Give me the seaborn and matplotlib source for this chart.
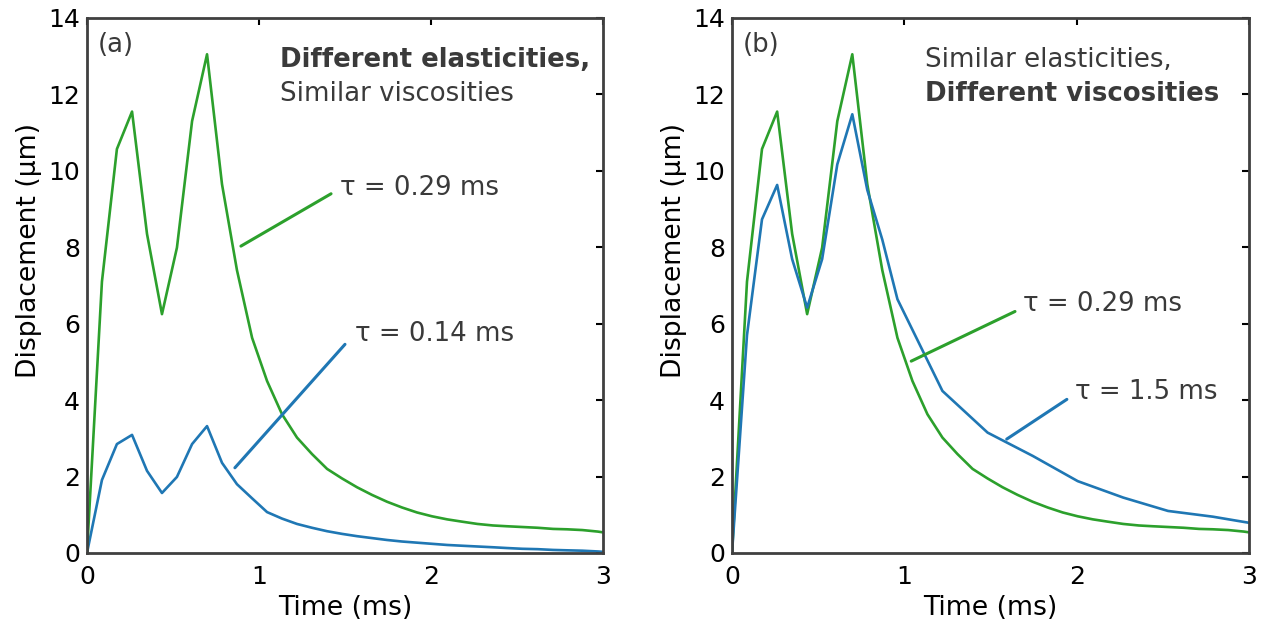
import numpy as np
import pandas as pd
import matplotlib
matplotlib.use("Agg")
import matplotlib.pyplot as plt
import seaborn as sns

# Sample times (ms) on the fine acquisition grid
time_fine = [0, 0.087, 0.174, 0.262, 0.349, 0.436, 0.523, 0.611, 0.698, 0.785,
             0.872, 0.960, 1.047, 1.134, 1.221, 1.308, 1.396, 1.483, 1.570, 1.657,
             1.745, 1.832, 1.919, 2.006, 2.094, 2.180, 2.270, 2.360, 2.440, 2.530,
             2.620, 2.710, 2.790, 2.880, 2.970, 3.000]

# Displacement (µm), tau = 0.29 ms
disp_tau029 = [0, 7.1, 10.57, 11.55, 8.35, 6.25, 7.99, 11.3, 13.05, 9.65,
               7.4, 5.63, 4.5, 3.63, 3.02, 2.59, 2.2, 1.95, 1.72, 1.52,
               1.34, 1.19, 1.06, 0.96, 0.88, 0.82, 0.76, 0.72, 0.70, 0.68,
               0.66, 0.63, 0.62, 0.60, 0.56, 0.54]

# Displacement (µm), tau = 0.14 ms
disp_tau014 = [0, 1.91, 2.85, 3.09, 2.15, 1.57, 1.99, 2.85, 3.32, 2.36,
               1.8, 1.43, 1.07, 0.9, 0.76, 0.66, 0.57, 0.5, 0.44, 0.39,
               0.34, 0.3, 0.27, 0.24, 0.21, 0.19, 0.17, 0.15, 0.13, 0.11,
               0.1, 0.08, 0.07, 0.06, 0.04, 0.03]

# Displacement (µm), tau = 1.5 ms (coarser sampling after 1 ms)
time_tau15 = [0, 0.087, 0.174, 0.262, 0.349, 0.436, 0.523, 0.611, 0.698, 0.785,
              0.872, 0.960, 1.221, 1.483, 1.745, 2.006, 2.270, 2.530, 2.790, 3.000]
disp_tau15 = [0, 5.7, 8.73, 9.63, 7.69, 6.42, 7.69, 10.17, 11.48, 9.5,
              8.2, 6.64, 4.24, 3.15, 2.54, 1.88, 1.45, 1.1, 0.95, 0.79]

GREEN = "#2ca02c"
BLUE = "#1f77b4"
TEXT = "#3a3a3a"
SPINE = "#404040"

sns.set_style("white")
plt.rcParams["font.family"] = ["DejaVu Sans"]

df_029 = pd.DataFrame({"t": time_fine, "d": disp_tau029})
df_014 = pd.DataFrame({"t": time_fine, "d": disp_tau014})
df_15 = pd.DataFrame({"t": time_tau15, "d": disp_tau15})

fig = plt.figure(figsize=(12.66, 6.24), dpi=100)
ax_a = fig.add_axes([0.0687, 0.1138, 0.4076, 0.8574])
ax_b = fig.add_axes([0.5782, 0.1138, 0.4084, 0.8574])

lw = 1.9
sns.lineplot(data=df_014, x="t", y="d", ax=ax_a, color=BLUE, lw=lw)
sns.lineplot(data=df_029, x="t", y="d", ax=ax_a, color=GREEN, lw=lw)
sns.lineplot(data=df_029, x="t", y="d", ax=ax_b, color=GREEN, lw=lw)
sns.lineplot(data=df_15, x="t", y="d", ax=ax_b, color=BLUE, lw=lw)

FS_TICK = 18
FS_LAB = 19.2
FS = 18.7
for ax in (ax_a, ax_b):
    ax.set_xlim(0, 3)
    ax.set_ylim(0, 14)
    ax.set_xticks([0, 1, 2, 3])
    ax.set_yticks(np.arange(0, 15, 2))
    ax.tick_params(direction="in", length=5, width=1.5, color="black",
                   labelsize=FS_TICK, top=True, right=True,
                   labelcolor="black")
    ax.tick_params(axis="x", pad=9)
    ax.tick_params(axis="y", pad=5)
    for s in ax.spines.values():
        s.set_visible(True)
        s.set_color(SPINE)
        s.set_linewidth(2)
    ax.set_xlabel("Time (ms)", fontsize=FS_LAB, color="black", labelpad=4)
    ax.set_ylabel("Displacement (µm)", fontsize=FS_LAB, color="black")
    ax.yaxis.set_label_coords(-0.088, 0.565)


def leader(ax, p0, p1, color, label, tpos):
    ax.annotate("", xy=p0, xytext=p1,
                arrowprops=dict(arrowstyle="-", color=color, lw=2.2,
                                shrinkA=0, shrinkB=0))
    ax.text(tpos[0], tpos[1], label, fontsize=FS, color=TEXT,
            ha="left", va="center")


# Panel (a)
ax_a.text(0.06, 13.3, "(a)", fontsize=FS, color=TEXT, ha="left", va="center")
ax_a.text(1.12, 12.9, "Different elasticities,", fontsize=FS, color=TEXT,
          fontweight="bold", ha="left", va="center")
ax_a.text(1.12, 12.02, "Similar viscosities", fontsize=FS, color=TEXT,
          ha="left", va="center")
leader(ax_a, (0.895, 8.03), (1.419, 9.4), GREEN, "τ = 0.29 ms", (1.47, 9.56))
leader(ax_a, (0.86, 2.23), (1.50, 5.46), BLUE, "τ = 0.14 ms", (1.56, 5.73))

# Panel (b)
ax_b.text(0.06, 13.3, "(b)", fontsize=FS, color=TEXT, ha="left", va="center")
ax_b.text(1.12, 12.9, "Similar elasticities,", fontsize=FS, color=TEXT,
          ha="left", va="center")
ax_b.text(1.12, 12.02, "Different viscosities", fontsize=FS, color=TEXT,
          fontweight="bold", ha="left", va="center")
leader(ax_b, (1.04, 5.02), (1.642, 6.32), GREEN, "τ = 0.29 ms", (1.69, 6.52))
leader(ax_b, (1.594, 2.98), (1.943, 4.02), BLUE, "τ = 1.5 ms", (1.99, 4.22))

fig.savefig("out.png", dpi=100)
